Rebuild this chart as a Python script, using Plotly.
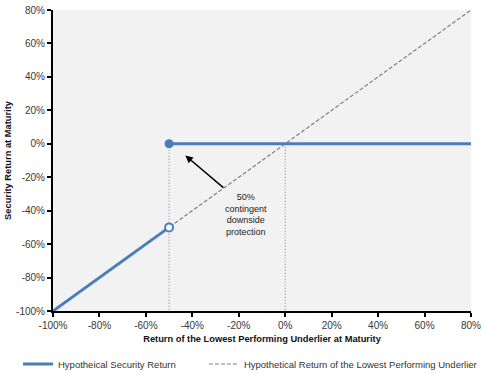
import plotly.graph_objects as go

# Data
underlier_x = [-100, 80]
underlier_y = [-100, 80]
security_low_x = [-100, -50]
security_low_y = [-100, -50]
security_high_x = [-50, 80]
security_high_y = [0, 0]
barrier_x = [-50, -50]
barrier_y = [0, -100]
zero_x = [0, 0]
zero_y = [0, -100]
tick_vals = [-100, -80, -60, -40, -20, 0, 20, 40, 60, 80]
tick_text = ["-100%", "-80%", "-60%", "-40%", "-20%", "0%", "20%", "40%", "60%", "80%"]

BLUE = "#4a7ebb"
GRAY = "#808080"
FONT = "Liberation Sans, Arial, sans-serif"

fig = go.Figure()
fig.add_trace(go.Scatter(x=barrier_x, y=barrier_y, mode="lines",
                         line=dict(color=GRAY, width=1, dash="1px,2px"), showlegend=False, hoverinfo="skip"))
fig.add_trace(go.Scatter(x=zero_x, y=zero_y, mode="lines",
                         line=dict(color=GRAY, width=1, dash="1px,2px"), showlegend=False, hoverinfo="skip"))
fig.add_trace(go.Scatter(x=security_high_x, y=security_high_y, mode="lines",
                         line=dict(color=BLUE, width=3), name="Hypotheical Security Return",
                         legendgroup="sec", showlegend=True, legend="legend"))
fig.add_trace(go.Scatter(x=underlier_x, y=underlier_y, mode="lines",
                         line=dict(color=GRAY, width=1.2, dash="4px,2px"),
                         name="Hypothetical Return of the Lowest Performing Underlier", legend="legend2"))
fig.add_trace(go.Scatter(x=security_low_x, y=security_low_y, mode="lines",
                         line=dict(color=BLUE, width=3), legendgroup="sec", showlegend=False))
fig.add_trace(go.Scatter(x=[security_low_x[-1]], y=[security_low_y[-1]], mode="markers",
                         marker=dict(color="white", size=8, line=dict(color=BLUE, width=2)),
                         showlegend=False))
fig.add_trace(go.Scatter(x=[security_high_x[0]], y=[security_high_y[0]], mode="markers",
                         marker=dict(color=BLUE, size=9), showlegend=False))

fig.add_annotation(x=-43, y=-7, ax=-26, ay=-27, xref="x", yref="y", axref="x", ayref="y",
                   showarrow=True, arrowhead=2, arrowsize=1, arrowwidth=1.5, arrowcolor="black", text="")
fig.add_annotation(x=-17, y=-42, xref="x", yref="y", showarrow=False,
                   text="50%<br>contingent<br>downside<br>protection",
                   font=dict(family=FONT, size=9, color="#222"), align="center")

axis_common = dict(range=[-100, 80], tickvals=tick_vals, ticktext=tick_text, showgrid=False,
                   zeroline=False, showline=True, linecolor="black", linewidth=2,
                   ticks="outside", ticklen=4, tickwidth=2, tickcolor="black", automargin=True,
                   tickfont=dict(family=FONT, size=10, color="#383838"))
fig.update_xaxes(**axis_common, title=dict(text="<b>Return of the Lowest Performing Underlier at Maturity</b>",
                 font=dict(family=FONT, size=9.3, color="#111"), standoff=5))
fig.update_yaxes(**axis_common, title=dict(text="<b>Security Return at Maturity</b>",
                 font=dict(family=FONT, size=9.3, color="#111"), standoff=3))

legend_common = dict(orientation="h", y=-0.176, xanchor="left", yanchor="middle",
                     font=dict(family=FONT, size=9.5, color="#333"), itemwidth=30,
                     bgcolor="rgba(0,0,0,0)")
fig.update_layout(width=486, height=373, margin=dict(l=53, r=15, t=10, b=62, autoexpand=False),
                  plot_bgcolor="#f2f2f2", paper_bgcolor="white",
                  font=dict(family=FONT),
                  legend=dict(x=-0.0837, **legend_common),
                  legend2=dict(x=0.361, **legend_common))
fig.write_html("out.html", post_script="document.body.style.margin='0';",
               config={"displayModeBar": False})
